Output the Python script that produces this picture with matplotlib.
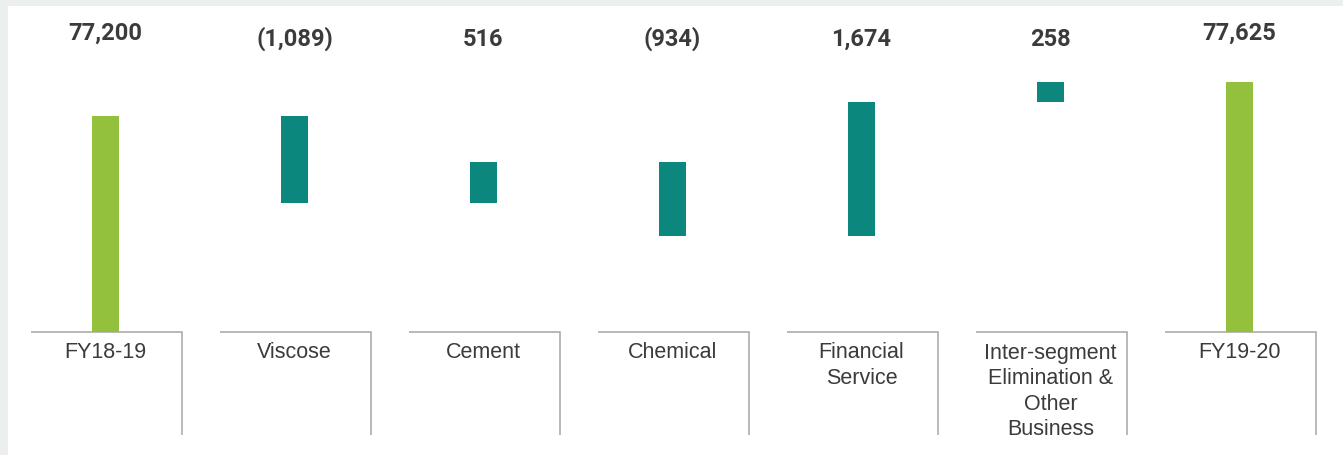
import matplotlib
matplotlib.use("Agg")
import matplotlib.pyplot as plt
from matplotlib.patches import Rectangle

# ---- data ----
categories = ["FY18-19", "Viscose", "Cement", "Chemical", "Financial\nService",
              "Inter-segment\nElimination &\nOther\nBusiness", "FY19-20"]
values = [77200, -1089, 516, -934, 1674, 258, 77625]
is_total = [True, False, False, False, False, False, True]

# ---- style ----
W, H, DPI = 1343, 455, 100
GREEN = "#93C13E"
TEAL = "#0B877D"
TXT = "#3C3A3B"
LINE = "#A6A6A6"
BG = "#EBEFEE"

BASE = 74500          # broken-axis baseline
PX_PER_UNIT = 0.08    # vertical scale
BASE_PX = 331.7       # pixel row of baseline (from top)
X0_PX, STEP_PX = 105.5, 189.0

fig = plt.figure(figsize=(W / DPI, H / DPI), dpi=DPI)
fig.patch.set_facecolor(BG)
fig.patches.append(Rectangle((8 / W, 0), 1 - 8 / W, 1 - 6 / H, transform=fig.transFigure,
                             facecolor="white", edgecolor="none", zorder=-10))

ax = fig.add_axes([0, 0, 1, 1])
ax.set_zorder(5)
ax.set_facecolor("none")
ax.axis("off")
ax.set_xlim(-X0_PX / STEP_PX, (W - X0_PX) / STEP_PX)
ax.set_ylim(BASE - (H - BASE_PX) / PX_PER_UNIT, BASE + BASE_PX / PX_PER_UNIT)

trans = ax.get_xaxis_transform()
bar_w = 27 / STEP_PX
running = 0
for i, (v, tot) in enumerate(zip(values, is_total)):
    if tot:
        bottom, height, color = BASE, v - BASE, GREEN
        running = v
    else:
        bottom, height, color = running, v, TEAL
        running += v
    ax.bar(i, height, bottom=bottom, width=bar_w, color=color, edgecolor="none", zorder=3)

    # value label
    if v < 0:
        s = "({:,})".format(-v)
    else:
        s = "{:,}".format(v)
    ypos = 1 - (40 if tot else 46) / H
    ax.text(i, ypos, s, transform=trans, ha="center", va="baseline",
            fontsize=17, fontweight="bold", family=["Roboto", "DejaVu Sans"], color=TXT)

    # category bracket
    left = i - 74.8 / STEP_PX
    right = i + 76.5 / STEP_PX
    ytop = 1 - 332 / H
    ybot = 1 - 435 / H
    ax.plot([left, right, right], [ytop, ytop, ybot], transform=trans, color=LINE,
            lw=1.1, solid_capstyle="butt", solid_joinstyle="miter", zorder=2, clip_on=False)

    ax.text(i, 1 - 342.5 / H, categories[i], transform=trans, ha="center", va="top",
            fontsize=15.5, family=["Liberation Sans", "DejaVu Sans"], color=TXT,
            linespacing=1.29)

fig.savefig("out.png", dpi=DPI, facecolor=fig.get_facecolor())
